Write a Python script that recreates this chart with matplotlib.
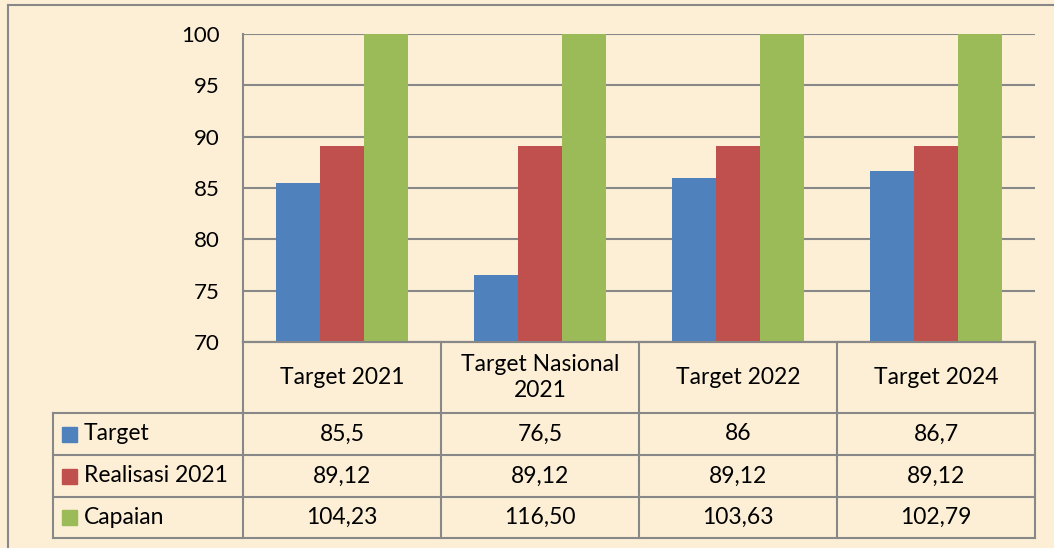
import matplotlib
matplotlib.use('Agg')
import matplotlib.pyplot as plt
import numpy as np

# chart data
categories = ['Target 2021', 'Target Nasional\n2021', 'Target 2022', 'Target 2024']
series_names = ['Target', 'Realisasi 2021', 'Capaian']
target = [85.5, 76.5, 86, 86.7]
realisasi = [89.12, 89.12, 89.12, 89.12]
capaian = [104.23, 116.50, 103.63, 102.79]
yticks = [70, 75, 80, 85, 90, 95, 100]

colors = ['#4F81BD', '#C0504D', '#9BBB59']
bg = '#FCEFD6'
line_col = '#888888'

plt.rcParams['font.family'] = ['Lato', 'DejaVu Sans']

W, H = 1054, 548
fig = plt.figure(figsize=(W / 100, H / 100), dpi=100, facecolor=bg)

# pixel layout
px_left, px_right, px_top, px_bottom = 243, 1035, 34, 342
ax = fig.add_axes([px_left / W, 1 - px_bottom / H, (px_right - px_left) / W, (px_bottom - px_top) / H])
ax.set_facecolor('none')

x = np.arange(len(categories))
bw = 0.222
for i, vals in enumerate([target, realisasi, capaian]):
    ax.bar(x + (i - 1) * bw, vals, bw, color=colors[i], zorder=3)

ax.set_xlim(-0.5, len(categories) - 0.5)
ax.set_ylim(70, 100)
ax.set_yticks(yticks)
ax.set_yticklabels([str(v) for v in yticks], fontsize=16)
ax.tick_params(axis='y', length=0, pad=17)
ax.set_xticks([])
ax.yaxis.grid(True, color=line_col, linewidth=1.5, zorder=0)
ax.set_axisbelow(True)
for s in ['top', 'right']:
    ax.spines[s].set_visible(False)
for s in ['left', 'bottom']:
    ax.spines[s].set_color(line_col)
    ax.spines[s].set_linewidth(1.5)

# overlay axes in pixel coordinates for table and frame
ov = fig.add_axes([0, 0, 1, 1])
ov.set_xlim(0, W)
ov.set_ylim(H, 0)
ov.axis('off')
ov.patch.set_alpha(0)

lw = 1.5
# outer frame (left and top visible)
ov.plot([8, 8], [5, H], color=line_col, lw=lw)
ov.plot([8, W], [5, 5], color=line_col, lw=lw)

col_edges = [243, 441, 639, 837, 1035]
row_edges = [413, 455, 497, 538]
leg_left = 53

# horizontal lines
ov.plot([col_edges[0], col_edges[-1]], [px_bottom, px_bottom], color=line_col, lw=lw)
for y in row_edges:
    ov.plot([leg_left, col_edges[-1]], [y, y], color=line_col, lw=lw)
# vertical lines
for xe in col_edges:
    ov.plot([xe, xe], [px_bottom, row_edges[-1]], color=line_col, lw=lw)
ov.plot([leg_left, leg_left], [row_edges[0], row_edges[-1]], color=line_col, lw=lw)

fs = 16.5
# header
for i, c in enumerate(categories):
    ov.text((col_edges[i] + col_edges[i + 1]) / 2, (px_bottom + row_edges[0]) / 2, c,
            ha='center', va='center', fontsize=fs, linespacing=1.25)


def fmt_target(v):
    return ('%g' % v).replace('.', ',')


def fmt2(v):
    return ('%.2f' % v).replace('.', ',')


rows = [
    [fmt_target(v) for v in target],
    [fmt2(v) for v in realisasi],
    [fmt2(v) for v in capaian],
]

for r, name in enumerate(series_names):
    yc = (row_edges[r] + row_edges[r + 1]) / 2
    ov.add_patch(plt.Rectangle((62, yc - 7.5), 15, 15, color=colors[r]))
    ov.text(84, yc, name, ha='left', va='center', fontsize=fs)
    for i, t in enumerate(rows[r]):
        ov.text((col_edges[i] + col_edges[i + 1]) / 2, yc, t, ha='center', va='center', fontsize=fs)

fig.savefig('out.png', dpi=100, facecolor=bg)
